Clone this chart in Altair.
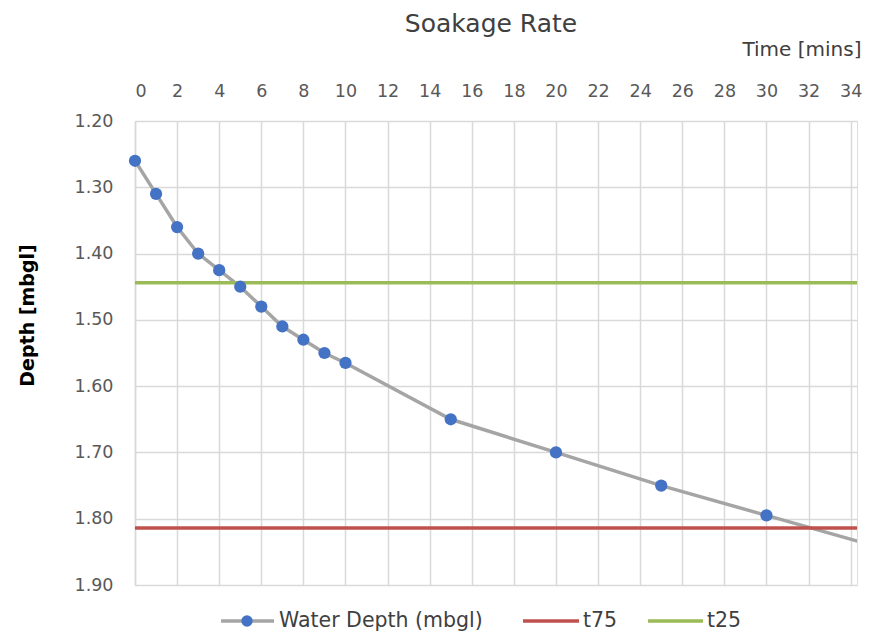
import altair as alt
import pandas as pd

# Measured data
times = [0, 1, 2, 3, 4, 5, 6, 7, 8, 9, 10, 15, 20, 25, 30]
depths = [1.26, 1.31, 1.36, 1.40, 1.425, 1.45, 1.48, 1.51, 1.53, 1.55, 1.565,
          1.65, 1.70, 1.75, 1.795]
# line continues past the last marker
ext_times = [35]
ext_depths = [1.84]

t75 = 1.814
t25 = 1.444

x_ticks = list(range(0, 35, 2))
y_ticks = [1.2, 1.3, 1.4, 1.5, 1.6, 1.7, 1.8, 1.9]

pts = pd.DataFrame({"t": times, "d": depths})
line_df = pd.DataFrame({"t": times + ext_times, "d": depths + ext_depths})
lines_df = pd.DataFrame({"name": ["t75", "t25"], "d": [t75, t25]})

FONT = "DejaVu Sans"
GRID = "#d9d9d9"
LABEL = "#595959"

xscale = alt.Scale(domain=[0, 34.3], nice=False, zero=False)
yscale = alt.Scale(domain=[1.2, 1.9], reverse=True, nice=False, zero=False)

xaxis = alt.Axis(orient="top", values=x_ticks, title="Time [mins]",
                 grid=True, gridColor=GRID, gridWidth=1.5, ticks=False,
                 domain=False, labelFont=FONT, labelFontSize=17.5,
                 labelFontWeight="normal", labelColor=LABEL, labelPadding=21,
                 titleFont=FONT, titleFontSize=20, titleFontWeight="normal",
                 titleColor="#404040", titleX=726, titleY=-72,
                 titleAlign="right", titleBaseline="middle")
yaxis = alt.Axis(values=y_ticks, format=".2f", title="Depth [mbgl]",
                 grid=True, gridColor=GRID, gridWidth=1.5, ticks=False,
                 domain=True, domainColor=GRID, domainWidth=1.5,
                 labelFont=FONT, labelFontSize=17.5, labelFontWeight="normal",
                 labelColor=LABEL, labelPadding=22,
                 titleFont=FONT, titleFontSize=19, titleFontWeight="bold",
                 titleColor="#000000", titleX=-108, titleY=194,
                 titleAngle=-90, titleBaseline="middle", titleAlign="center")

base_line = alt.Chart(line_df).mark_line(color="#a5a5a5", strokeWidth=3.5, clip=True).encode(
    x=alt.X("t:Q", scale=xscale, axis=xaxis),
    y=alt.Y("d:Q", scale=yscale, axis=yaxis),
    order="t:Q",
)
points = alt.Chart(pts).mark_circle(color="#4472c4", size=150, opacity=1).encode(
    x=alt.X("t:Q", scale=xscale),
    y=alt.Y("d:Q", scale=yscale),
)
rules = alt.Chart(lines_df).mark_rule(strokeWidth=3.5).encode(
    y=alt.Y("d:Q", scale=yscale),
    color=alt.Color("name:N", scale=alt.Scale(domain=["t75", "t25"],
                                              range=["#c0504d", "#9bbb59"]),
                    legend=None),
)

# manual legend
LY = 500
leg_df = pd.DataFrame({"k": [0]})
def seg(x1, x2, color):
    return alt.Chart(leg_df).mark_rule(color=color, strokeWidth=3.5).encode(
        x=alt.value(x1), x2=alt.value(x2), y=alt.value(LY))
def txt(x, s):
    return alt.Chart(leg_df).mark_text(text=s, align="left", baseline="middle",
                                       font=FONT, fontSize=20.5, color="#404040").encode(
        x=alt.value(x), y=alt.value(LY))
leg_dot = alt.Chart(leg_df).mark_circle(color="#4472c4", size=130, opacity=1).encode(
    x=alt.value(112), y=alt.value(LY))

legend = [seg(86, 139, "#a5a5a5"), leg_dot, txt(144, "Water Depth (mbgl)"),
          seg(388, 444, "#c0504d"), txt(448, "t75"),
          seg(513, 568, "#9bbb59"), txt(572, "t25")]

chart = alt.layer(base_line, rules, points, *legend).properties(
    width=722, height=464,
    padding={"left": 127, "top": 113, "right": 8, "bottom": 47},
    autosize=alt.AutoSizeParams(type="none"),
    title=alt.TitleParams("Soakage Rate", font=FONT, fontSize=25,
                          fontWeight="normal", color="#404040", offset=2,
                          dx=-5),
).configure_view(stroke=None).configure(background="white")

chart.save("out.html", embed_options={"renderer": "svg", "actions": False})
